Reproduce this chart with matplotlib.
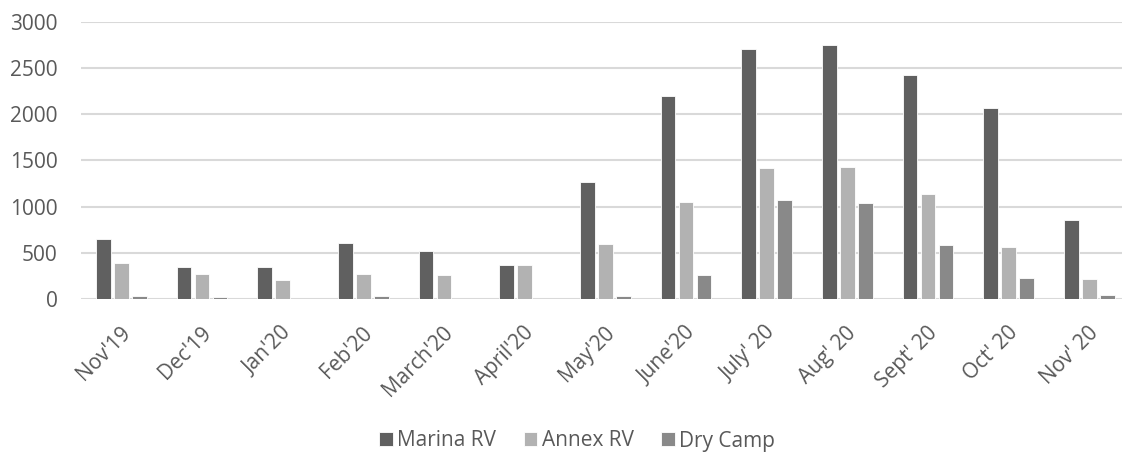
import matplotlib
matplotlib.use("Agg")
import matplotlib.pyplot as plt
import matplotlib.transforms as mtransforms
import numpy as np

categories = ["Nov'19", "Dec'19", "Jan'20", "Feb'20", "March'20", "April'20", "May'20",
              "June'20", "July' 20", "Aug' 20", "Sept' 20", "Oct' 20", "Nov' 20"]
marina_rv = [646, 350, 354, 609, 522, 372, 1270, 2195, 2706, 2749, 2422, 2070, 855]
annex_rv = [394, 277, 212, 277, 259, 369, 595, 1046, 1419, 1434, 1139, 568, 216]
dry_camp = [33, 22, 0, 33, 8, 0, 32, 262, 1074, 1042, 589, 226, 43]
series_names = ["Marina RV", "Annex RV", "Dry Camp"]
colors = ["#606060", "#b2b2b2", "#898989"]

plt.rcParams['font.family'] = ['Open Sans', 'DejaVu Sans']

fig = plt.figure(figsize=(11.22, 4.55), dpi=100)
ax = fig.add_axes([81/1122, 1-299.3/455, (1129.6-81)/1122, (299.3-21.5)/455])

x = np.arange(len(categories))
step = 0.2233
width = 0.18
for i, (vals, name, c) in enumerate(zip([marina_rv, annex_rv, dry_camp], series_names, colors)):
    ax.bar(x + (i-1)*step, vals, width=width, color=c, edgecolor='white', linewidth=0.6,
           label=name, zorder=3)

ax.set_xlim(-0.5, len(categories)-0.5)
ax.set_ylim(0, 3000)
ax.set_yticks(range(0, 3001, 500))
ax.yaxis.grid(True, color='#d9d9d9', linewidth=1.5, zorder=0)
ax.set_axisbelow(True)
for s in ax.spines.values():
    s.set_visible(False)
ax.tick_params(axis='both', length=0, labelsize=15, labelcolor='#595959')
ax.tick_params(axis='y', pad=17)
ax.set_xticks(x)
ax.set_xticklabels(categories, rotation=45, ha='right', va='center', rotation_mode='anchor')
ax.tick_params(axis='x', pad=22)
offset = mtransforms.ScaledTranslation(6/100, 0, fig.dpi_scale_trans)
for lbl in ax.get_xticklabels():
    lbl.set_transform(lbl.get_transform() + offset)

leg = fig.legend(loc='center', bbox_to_anchor=(577/1122, 1-441/455), ncol=3, frameon=False,
                 fontsize=15, handlelength=0.67, handleheight=0.67, handletextpad=0.2,
                 columnspacing=1.3, borderaxespad=0, borderpad=0)
for t in leg.get_texts():
    t.set_color('#595959')

fig.savefig("out.png", dpi=100)
